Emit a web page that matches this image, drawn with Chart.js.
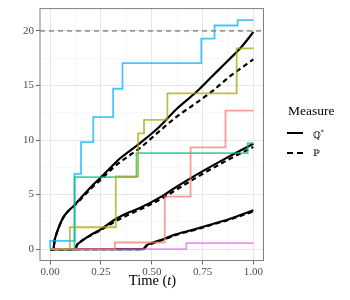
<!DOCTYPE html>
<html>
<head>
<meta charset="utf-8">
<script src="https://cdn.jsdelivr.net/npm/chart.js@4.4.1/dist/chart.umd.min.js"></script>
<style>
  html,body{margin:0;padding:0;background:#fff;}
  #wrap{position:relative;width:350px;height:300px;font-family:'Liberation Serif',serif;}
  #c{position:absolute;left:0;top:0;}
  .t{position:absolute;white-space:nowrap;color:#000;line-height:1;}
</style>
</head>
<body>
<div id="wrap">
  <canvas id="c" width="350" height="300"></canvas>
  <div class="t" id="xt" style="left:0;width:305px;text-align:center;top:273px;font-size:14.5px;">Time (<i>t</i>)</div>
  <div class="t" style="left:288px;top:104px;font-size:13.5px;">Measure</div>
  <div style="position:absolute;left:287px;top:132px;width:16px;border-top:2.5px solid #000;"></div>
  <div class="t" style="left:313px;top:129px;font-size:9px;font-family:'DejaVu Serif',serif;">ℚ<sup style="font-size:6px;">*</sup></div>
  <div style="position:absolute;left:287px;top:152px;width:6px;border-top:2.5px solid #000;"></div>
  <div style="position:absolute;left:297px;top:152px;width:6px;border-top:2.5px solid #000;"></div>
  <div class="t" style="left:313px;top:149px;font-size:9px;font-family:'DejaVu Serif',serif;">ℙ</div>
</div>
<script>
// ---- data ----
const xTicks = [0, 0.125, 0.25, 0.375, 0.5, 0.625, 0.75, 0.875, 1];
const xTickLabels = ['0.00', '', '0.25', '', '0.50', '', '0.75', '', '1.00'];
const yTicks = [0, 2.5, 5, 7.5, 10, 12.5, 15, 17.5, 20];
const yTickLabels = ['0', '', '5', '', '10', '', '15', '', '20'];
const threshold = 20;

// observed counting processes (jump time, new level)
const redT   = [0, 0.319, 0.564, 0.691, 0.863, 1];
const redY   = [0, 0.6, 4.8, 9.33, 12.7, 12.7];
const oliveT = [0, 0.097, 0.323, 0.433, 0.462, 0.577, 0.918, 1];
const oliveY = [0, 2.0, 6.66, 10.6, 11.85, 14.27, 18.4, 18.4];
const greenT = [0, 0.12, 0.425, 0.972, 1];
const greenY = [0, 6.6, 8.8, 9.7, 9.7];
const blueT  = [0, 0, 0.12, 0.152, 0.212, 0.31, 0.356, 0.744, 0.809, 0.923, 1];
const blueY  = [0, 0.75, 6.9, 9.8, 12.1, 14.7, 17.05, 19.3, 20.5, 21.0, 21.0];
const pinkT  = [0, 0.67, 1];
const pinkY  = [0, 0.55, 0.55];

// expected curves under Q* (solid) and P (dashed)
const topT      = [0, 0.016, 0.022, 0.033, 0.049, 0.065, 0.082, 0.118, 0.147, 0.196, 0.245, 0.31, 0.343, 0.392, 0.441, 0.531, 0.62, 0.719, 0.8, 0.882, 0.94, 1];
const topQ      = [0, 0, 0.8, 1.5, 2.3, 2.9, 3.35, 4.0, 4.6, 5.6, 6.5, 7.7, 8.3, 9.0, 9.7, 11.1, 12.8, 14.4, 15.9, 17.4, 18.5, 19.9];
const topP      = [0, 0, 0.8, 1.5, 2.3, 2.9, 3.33, 3.95, 4.5, 5.45, 6.3, 7.45, 7.95, 8.6, 9.25, 10.7, 12.1, 13.4, 14.5, 15.8, 16.6, 17.4];
const midT      = [0, 0.125, 0.13, 0.145, 0.163, 0.2, 0.245, 0.327, 0.392, 0.433, 0.556, 0.613, 0.719, 0.882, 1];
const midQ      = [0, 0, 0.3, 0.6, 0.85, 1.3, 1.75, 2.8, 3.4, 3.7, 4.9, 5.6, 6.8, 8.5, 9.65];
const midP      = [0, 0, 0.3, 0.6, 0.85, 1.25, 1.7, 2.6, 3.2, 3.55, 4.7, 5.35, 6.55, 8.25, 9.35];
const lowT      = [0, 0.457, 0.475, 0.5, 0.556, 0.62, 0.719, 0.8, 0.882, 1];
const lowQ      = [0, 0, 0.35, 0.55, 0.9, 1.35, 1.85, 2.3, 2.75, 3.55];
const lowP      = [0, 0, 0.3, 0.5, 0.85, 1.3, 1.8, 2.25, 2.7, 3.45];

const pts = (T, Y) => T.map((t, i) => ({x: t, y: Y[i]}));

function stepDs(T, Y, color) {
  return {data: pts(T, Y), borderColor: color, borderWidth: 1.8, stepped: 'before',
          pointRadius: 0, fill: false};
}
function curveDs(T, Y, dashed) {
  return {data: pts(T, Y), borderColor: '#000', borderWidth: 2.2, borderDash: dashed ? [5, 3.5] : [],
          cubicInterpolationMode: 'monotone', pointRadius: 0, fill: false};
}

const datasets = [
  stepDs(redT, redY, 'rgba(248,118,109,0.72)'),
  stepDs(oliveT, oliveY, 'rgba(163,165,0,0.72)'),
  stepDs(greenT, greenY, 'rgba(0,191,125,0.72)'),
  stepDs(blueT, blueY, 'rgba(0,176,246,0.72)'),
  stepDs(pinkT, pinkY, 'rgba(231,107,243,0.72)'),
  curveDs(topT, topQ, false), curveDs(topT, topP, true),
  curveDs(midT, midQ, false), curveDs(midT, midP, true),
  curveDs(lowT, lowQ, false), curveDs(lowT, lowP, true),
  {data: [{x: -0.05, y: threshold}, {x: 1.05, y: threshold}], borderColor: '#555', borderWidth: 1,
   borderDash: [5, 4], pointRadius: 0, fill: false}
];

const border = {
  id: 'panelBorder',
  afterDraw(chart) {
    const a = chart.chartArea, ctx = chart.ctx;
    ctx.save(); ctx.strokeStyle = '#7f7f7f'; ctx.lineWidth = 1;
    ctx.strokeRect(a.left, a.top, a.right - a.left, a.bottom - a.top);
    ctx.restore();
  }
};

const isMajor = (arr, v) => arr.indexOf(v) % 2 === 0;

new Chart(document.getElementById('c'), {
  type: 'line',
  data: {datasets},
  plugins: [border],
  options: {
    responsive: false, animation: false, devicePixelRatio: 1,
    layout: {padding: {top: 6, right: 86.5, left: 0, bottom: 0}},
    plugins: {legend: {display: false}, tooltip: {enabled: false}},
    scales: {
      x: {
        type: 'linear', min: -0.05, max: 1.05,
        afterFit(s) { s.height = 39.5; },
        afterBuildTicks(s) { s.ticks = xTicks.map(v => ({value: v})); },
        border: {display: false},
        grid: {
          color: c => (c.tick && isMajor(xTicks, c.tick.value)) ? '#e6e6e6' : '#f3f3f3',
          lineWidth: c => (c.tick && isMajor(xTicks, c.tick.value)) ? 1 : 0.6,
          tickColor: c => (c.tick && isMajor(xTicks, c.tick.value)) ? '#666' : 'rgba(0,0,0,0)',
          tickLength: 4, tickWidth: 1
        },
        ticks: {
          autoSkip: false, maxRotation: 0, padding: 1, color: '#4d4d4d',
          font: {family: "'Liberation Serif', serif", size: 11},
          callback: (v) => { const i = xTicks.indexOf(v); return i >= 0 ? xTickLabels[i] : ''; }
        }
      },
      y: {
        type: 'linear', min: -1.05, max: 22.05,
        afterFit(s) { s.width = 40; },
        afterBuildTicks(s) { s.ticks = yTicks.map(v => ({value: v})); },
        border: {display: false},
        grid: {
          color: c => (c.tick && isMajor(yTicks, c.tick.value)) ? '#e6e6e6' : '#f3f3f3',
          lineWidth: c => (c.tick && isMajor(yTicks, c.tick.value)) ? 1 : 0.6,
          tickColor: c => (c.tick && isMajor(yTicks, c.tick.value)) ? '#666' : 'rgba(0,0,0,0)',
          tickLength: 4, tickWidth: 1
        },
        ticks: {
          autoSkip: false, padding: 2, color: '#4d4d4d',
          font: {family: "'Liberation Serif', serif", size: 11},
          callback: (v) => { const i = yTicks.indexOf(v); return i >= 0 ? yTickLabels[i] : ''; }
        }
      }
    }
  }
});
</script>
</body>
</html>
